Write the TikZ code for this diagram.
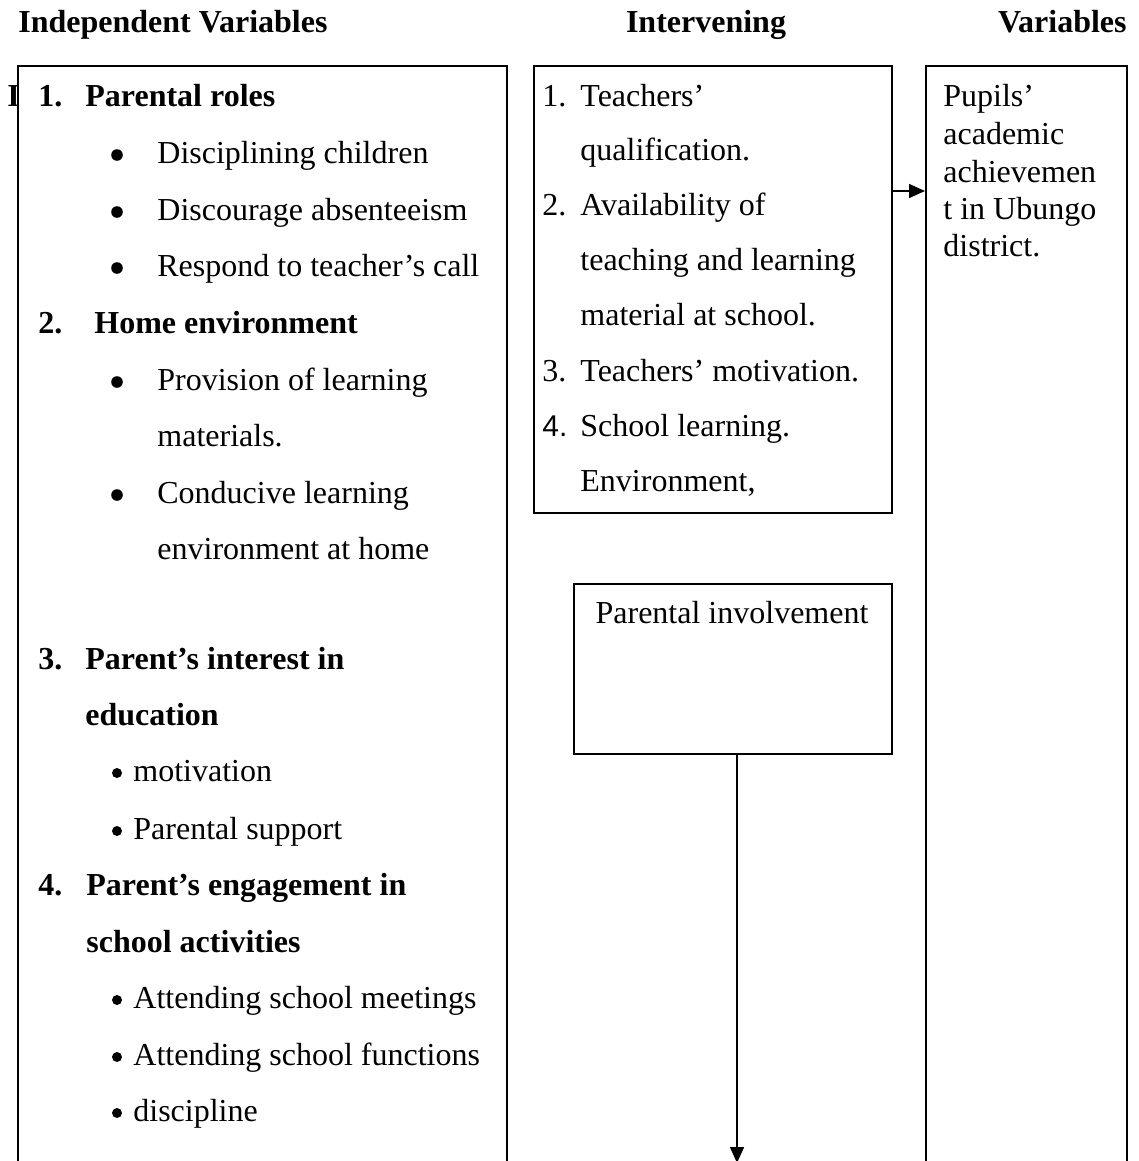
\documentclass[tikz,border=0pt]{standalone}
\usepackage{fontspec}
\setmainfont{Liberation Serif}
\newfontfamily\armono{Liberation Sans}
\usetikzlibrary{arrows.meta}
\begin{document}
\begin{tikzpicture}[x=0.5pt,y=-0.5pt,
  box/.style={draw, line width=1pt, inner sep=0, anchor=north west, fill=white},
  txt/.style={anchor=base west, inner sep=0, font=\fontsize{16}{19}\selectfont},
  bold/.style={anchor=base west, inner sep=0, font=\fontsize{16}{19}\selectfont\bfseries},
  bigdot/.style={circle, fill, inner sep=0, minimum size=5.8pt},
  smalldot/.style={circle, fill, inner sep=0, minimum size=5pt},
  arr/.style={line width=0.75pt, -{Triangle[length=8pt,width=7pt]}}]
\useasboundingbox (0,0) rectangle (1139,1161);
\clip (0,0) rectangle (1139,1161);

% column headings
\node[bold] (hInd) at (18,33) {Independent Variables};
\node[bold, anchor=base] (hInt) at (706,33) {Intervening};
\node[bold, anchor=base east] (hVar) at (1127,33) {Variables};

% letter partly hidden behind the left box
\node[bold] (hid) at (7,107) {I};

% boxes
\node[box, minimum width=244.5pt, minimum height=567.5pt] (ind) at (17,65) {};
\node[box, minimum width=179pt, minimum height=223.5pt] (mid) at (533,65) {};
\node[box, minimum width=159pt, minimum height=85pt] (par) at (573,583) {};
\node[box, minimum width=100.5pt, minimum height=567.5pt] (dep) at (925,65) {};

% independent variables
\node[bold] (n1) at (38,107) {1.};
\node[bold] (t1) at (85,107) {Parental roles};
\node[bigdot] (b11) at (117,155) {};
\node[txt] (t11) at (157,163) {Disciplining children};
\node[bigdot] (b12) at (117,212) {};
\node[txt] (t12) at (157,220) {Discourage absenteeism};
\node[bigdot] (b13) at (117,268) {};
\node[txt] (t13) at (157,276) {Respond to teacher’s call};
\node[bold] (n2) at (38,333) {2.};
\node[bold] (t2) at (94,333) {Home environment};
\node[bigdot] (b21) at (117,382) {};
\node[txt] (t21) at (157,390) {Provision of learning};
\node[txt] (t21b) at (157,446) {materials.};
\node[bigdot] (b22) at (117,495) {};
\node[txt] (t22) at (157,503) {Conducive learning};
\node[txt] (t22b) at (157,559) {environment at home};
\node[bold] (n3) at (38,669) {3.};
\node[bold] (t3) at (85,669) {Parent’s interest in};
\node[bold] (t3b) at (85,725) {education};
\node[smalldot] (b31) at (117,773) {};
\node[txt] (t31) at (133,781) {motivation};
\node[smalldot] (b32) at (117,831) {};
\node[txt] (t32) at (133,839) {Parental support};
\node[bold] (n4) at (38,895) {4.};
\node[bold] (t4) at (86,895) {Parent’s engagement in};
\node[bold] (t4b) at (86,952) {school activities};
\node[smalldot] (b41) at (117,1000) {};
\node[txt] (t41) at (133,1008) {Attending school meetings};
\node[smalldot] (b42) at (117,1057) {};
\node[txt] (t42) at (133,1065) {Attending school functions};
\node[smalldot] (b43) at (117,1113) {};
\node[txt] (t43) at (133,1121) {discipline};

% intervening variables
\node[txt] (m1n) at (542,107) {1.};
\node[txt] (m1) at (580,107) {Teachers’};
\node[txt] (m1b) at (580,161) {qualification.};
\node[txt] (m2n) at (542,215) {2.};
\node[txt] (m2) at (580,215) {Availability of};
\node[txt] (m2b) at (580,270) {teaching and learning};
\node[txt] (m2c) at (580,325) {material at school.};
\node[txt] (m3n) at (542,381) {3.};
\node[txt] (m3) at (580,381) {Teachers’ motivation.};
\node[txt, font=\fontsize{15}{18}\armono] (m4n) at (542,436) {4.};
\node[txt] (m4) at (580,436) {School learning.};
\node[txt] (m4b) at (580,491) {Environment,};

\node[txt, anchor=base] (pt) at (732,623) {Parental involvement};

% dependent variable
\node[txt] (d1) at (943,106) {Pupils’};
\node[txt] (d2) at (943,144) {academic};
\node[txt] (d3) at (943,182) {achievemen};
\node[txt] (d4) at (943,219) {t in Ubungo};
\node[txt] (d5) at (943,256) {district.};

% connectors
\coordinate (ay) at (0,191);
\coordinate (cut) at (737,1163);
\draw[arr] (mid.east |- ay) -- (dep.west |- ay);
\draw[arr] (par.south -| cut) -- (cut);
\end{tikzpicture}
\end{document}
